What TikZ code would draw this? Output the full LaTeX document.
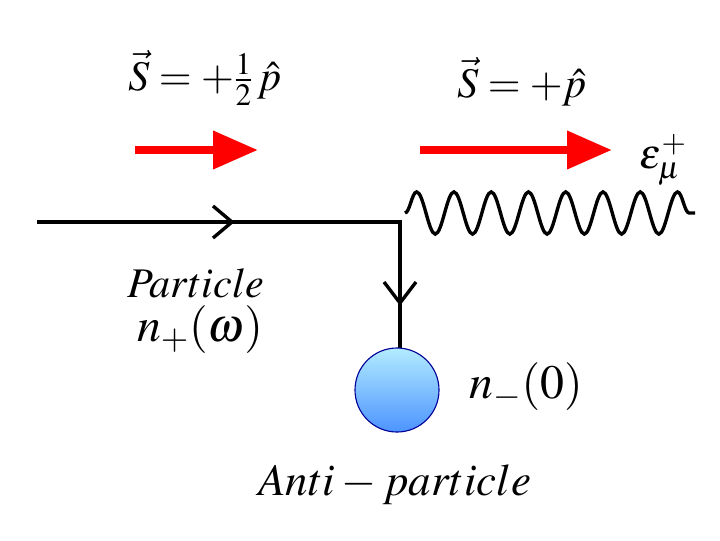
\documentclass[tikz,border=0pt]{standalone}
\usepackage{mathptmx}
\usepackage{tikz}
\usetikzlibrary{arrows,arrows.meta,positioning}
\usetikzlibrary{decorations.pathmorphing}
\begin{document}
\begin{tikzpicture}[x=0.025cm,y=-0.025cm, auto]
\tikzset{line/.style={line width=2.4pt,black},
         spin/.style={red,line width=6pt,-{Triangle[length=32pt,width=26pt]}},
         lbl/.style={font=\fontsize{30}{30}\selectfont}}
\useasboundingbox (0,0) rectangle (720,540);

\coordinate (in) at (37,222);
\coordinate (vtx) at (400,222);
\coordinate (dn) at (400,352);
\coordinate (wend) at (695,213);

\draw[line] (in) -- (vtx) -- (dn);
\draw[line] (213,206) -- (232,222) -- (213,238);
\draw[line] (384,282) -- (400,303) -- (416,282);

\draw[line, decorate, decoration={snake,segment length=26.5pt,amplitude=15pt}]
  (405,213) -- (wend);

\node[circle, minimum size=2.1cm, draw=blue!60!black, thick,
      top color=blue!25!cyan!30, bottom color=blue!60!cyan!70] (anti) at (397,390) {};

\draw[spin] (135,150) -- (258,150);
\draw[spin] (420,150) -- (612,150);

\node[lbl] (s1) at (205,78) {$\vec S=+\frac{1}{2}\,\hat p$};
\node[lbl] (s2) at (522,82) {$\vec S=+\hat p$};
\node[lbl] (eps) at (663,160) {$\varepsilon_\mu^+$};
\node[lbl] (part) at (196,283) {$Particle$};
\node[lbl,font=\fontsize{34}{34}\selectfont] (np) at (200,330) {$n_+(\omega)$};
\node[lbl,font=\fontsize{34}{34}\selectfont] (nm) at (526,387) {$n_-(0)$};
\node[lbl,font=\fontsize{32}{32}\selectfont] (ap) at (395,485) {$Anti-particle$};
\end{tikzpicture}
\end{document}
